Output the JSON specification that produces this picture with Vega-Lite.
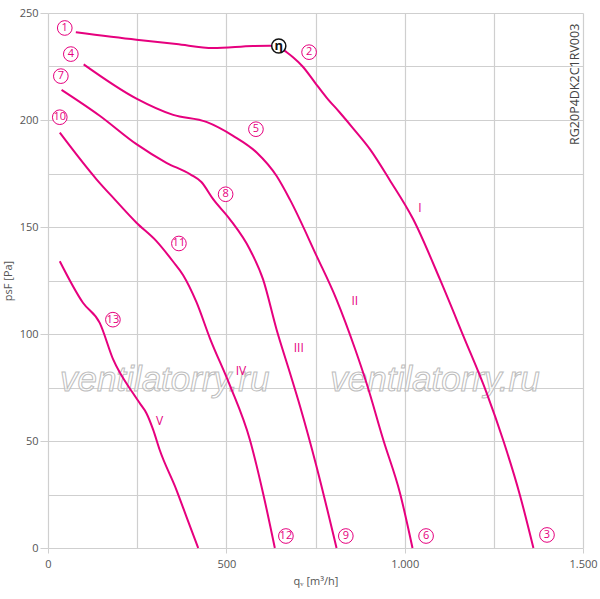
{
  "$schema": "https://vega.github.io/schema/vega-lite/v6.json",
  "description": "RG20P4DK2C1RV003 fan curves",
  "width": 535,
  "height": 535,
  "autosize": "none",
  "padding": {"left": 48, "top": 13, "right": 17, "bottom": 51},
  "background": "white",
  "config": {"view": {"stroke": null}, "font": "Open Sans"},
  "datasets": {
    "curves": [
      {"curve": "I", "x": 78, "y": 241}, {"curve": "I", "x": 248, "y": 237.5}, {"curve": "I", "x": 360, "y": 235.5},
      {"curve": "I", "x": 463, "y": 233.6}, {"curve": "I", "x": 575, "y": 234.6}, {"curve": "I", "x": 622, "y": 234.7},
      {"curve": "I", "x": 648, "y": 234.3}, {"curve": "I", "x": 664, "y": 232.3}, {"curve": "I", "x": 687, "y": 229.3},
      {"curve": "I", "x": 714, "y": 225}, {"curve": "I", "x": 748, "y": 217.6}, {"curve": "I", "x": 781, "y": 210.5},
      {"curve": "I", "x": 818, "y": 203.5}, {"curve": "I", "x": 856, "y": 196}, {"curve": "I", "x": 903, "y": 186.3},
      {"curve": "I", "x": 958, "y": 172}, {"curve": "I", "x": 1024, "y": 153.6},
      {"curve": "I", "x": 1099, "y": 125.5}, {"curve": "I", "x": 1165, "y": 98.9}, {"curve": "I", "x": 1230, "y": 72.4},
      {"curve": "I", "x": 1277, "y": 50}, {"curve": "I", "x": 1323, "y": 24.8}, {"curve": "I", "x": 1361, "y": 0},
      {"curve": "II", "x": 100, "y": 226}, {"curve": "II", "x": 248, "y": 210}, {"curve": "II", "x": 351, "y": 202.4},
      {"curve": "II", "x": 444, "y": 199.1}, {"curve": "II", "x": 519, "y": 192.6}, {"curve": "II", "x": 585, "y": 184.8},
      {"curve": "II", "x": 641, "y": 173.8}, {"curve": "II", "x": 678, "y": 162.9}, {"curve": "II", "x": 753, "y": 136.5},
      {"curve": "II", "x": 809, "y": 116.1}, {"curve": "II", "x": 861, "y": 93}, {"curve": "II", "x": 893, "y": 77.1},
      {"curve": "II", "x": 940, "y": 50.6}, {"curve": "II", "x": 987, "y": 25.6}, {"curve": "II", "x": 1022, "y": 0},
      {"curve": "III", "x": 38, "y": 214.1}, {"curve": "III", "x": 145, "y": 202}, {"curve": "III", "x": 248, "y": 188.7},
      {"curve": "III", "x": 332, "y": 180}, {"curve": "III", "x": 400, "y": 174.5}, {"curve": "III", "x": 430, "y": 171},
      {"curve": "III", "x": 463, "y": 163}, {"curve": "III", "x": 510, "y": 153.6}, {"curve": "III", "x": 566, "y": 139.5},
      {"curve": "III", "x": 603, "y": 125.5}, {"curve": "III", "x": 641, "y": 102}, {"curve": "III", "x": 678, "y": 82},
      {"curve": "III", "x": 707, "y": 66}, {"curve": "III", "x": 753, "y": 38}, {"curve": "III", "x": 809, "y": 0},
      {"curve": "IV", "x": 33, "y": 194.1}, {"curve": "IV", "x": 136, "y": 172.3}, {"curve": "IV", "x": 187, "y": 162.9},
      {"curve": "IV", "x": 248, "y": 152}, {"curve": "IV", "x": 304, "y": 143.4}, {"curve": "IV", "x": 350, "y": 134},
      {"curve": "IV", "x": 379, "y": 127.5}, {"curve": "IV", "x": 416, "y": 115}, {"curve": "IV", "x": 454, "y": 98},
      {"curve": "IV", "x": 510, "y": 76}, {"curve": "IV", "x": 566, "y": 50.6}, {"curve": "IV", "x": 603, "y": 25.6},
      {"curve": "IV", "x": 636, "y": 0},
      {"curve": "V", "x": 33, "y": 134}, {"curve": "V", "x": 98, "y": 114.6}, {"curve": "V", "x": 145, "y": 105.2},
      {"curve": "V", "x": 183, "y": 88}, {"curve": "V", "x": 238, "y": 72.4}, {"curve": "V", "x": 260, "y": 67},
      {"curve": "V", "x": 276, "y": 63}, {"curve": "V", "x": 295, "y": 55.2}, {"curve": "V", "x": 313, "y": 45.9},
      {"curve": "V", "x": 360, "y": 27.2}, {"curve": "V", "x": 388, "y": 14.7}, {"curve": "V", "x": 421, "y": 0}
    ],
    "points": [
      {"label": "1", "x": 47, "y": 243}, {"label": "2", "x": 732, "y": 231.7}, {"label": "3", "x": 1399, "y": 6.1},
      {"label": "4", "x": 64, "y": 230.8}, {"label": "5", "x": 583, "y": 195.7}, {"label": "6", "x": 1060, "y": 5.6},
      {"label": "7", "x": 36, "y": 220.5}, {"label": "8", "x": 498, "y": 165.3}, {"label": "9", "x": 835, "y": 5.6},
      {"label": "10", "x": 33, "y": 201.3}, {"label": "11", "x": 367, "y": 142.3}, {"label": "12", "x": 667, "y": 5.6},
      {"label": "13", "x": 182, "y": 106.7}
    ],
    "roman": [
      {"label": "I", "x": 1043, "y": 158.7}, {"label": "II", "x": 860, "y": 115.2}, {"label": "III", "x": 703, "y": 93.6},
      {"label": "IV", "x": 541, "y": 82.9}, {"label": "V", "x": 313, "y": 59.5}
    ],
    "watermark": [
      {"label": "ventilatorry.ru", "x": 327, "y": 78.7}, {"label": "ventilatorry.ru", "x": 1085, "y": 78.7}
    ],
    "code": [{"label": "RG20P4DK2C1RV003", "x": 1478, "y": 245}],
    "eta": [{"label": "η", "x": 647, "y": 234.6}]
  },
  "encoding": {
    "x": {
      "field": "x", "type": "quantitative",
      "scale": {"domain": [0, 1500], "nice": false},
      "axis": {
        "values": [0, 250, 500, 750, 1000, 1250, 1500],
        "title": "qᵥ [m³/h]",
        "labelExpr": "datum.value % 500 == 0 ? replace(format(datum.value, ','), ',', '.') : ''",
        "labelFlush": false,
        "domain": false, "gridColor": "#cfcfcf", "gridWidth": 1.2,
        "tickSize": 5, "tickColor": "#cfcfcf",
        "tickOpacity": {"condition": {"test": "datum.value % 500 == 0", "value": 1}, "value": 0},
        "labelFontSize": 11, "labelColor": "#555", "labelPadding": 5,
        "titleFontSize": 11, "titleFontWeight": "normal", "titleColor": "#555", "titlePadding": 6
      }
    },
    "y": {
      "field": "y", "type": "quantitative",
      "scale": {"domain": [0, 250], "nice": false},
      "axis": {
        "values": [0, 25, 50, 75, 100, 125, 150, 175, 200, 225, 250],
        "title": "psF [Pa]",
        "labelExpr": "datum.value % 50 == 0 ? datum.label : ''",
        "labelFlush": false,
        "domain": false, "gridColor": "#cfcfcf", "gridWidth": 1.2,
        "tickSize": 8, "tickColor": "#cfcfcf",
        "tickOpacity": {"condition": {"test": "datum.value % 50 == 0", "value": 1}, "value": 0},
        "labelFontSize": 11, "labelColor": "#555", "labelPadding": 2,
        "titleFontSize": 11, "titleFontWeight": "normal", "titleColor": "#555", "titlePadding": 6
      }
    }
  },
  "layer": [
    {
      "data": {"name": "watermark"},
      "mark": {"type": "text", "font": "Liberation Sans", "fontStyle": "italic", "fontSize": 35, "fill": "white", "fillOpacity": 0.6, "stroke": "#bdbdbd", "strokeWidth": 1, "align": "center", "baseline": "middle"},
      "encoding": {"text": {"field": "label"}}
    },
    {
      "data": {"name": "curves"},
      "mark": {"type": "line", "color": "#e6007e", "strokeWidth": 2, "interpolate": "monotone"},
      "encoding": {"detail": {"field": "curve"}}
    },
    {
      "data": {"name": "code"},
      "mark": {"type": "text", "angle": 270, "align": "right", "baseline": "middle", "fontSize": 12.5, "color": "#444"},
      "encoding": {"text": {"field": "label"}}
    },
    {
      "data": {"name": "roman"},
      "mark": {"type": "text", "align": "center", "baseline": "middle", "fontSize": 12, "color": "#e6007e"},
      "encoding": {"text": {"field": "label"}}
    },
    {
      "data": {"name": "points"},
      "mark": {"type": "point", "shape": "circle", "size": 215, "filled": false, "fill": "white", "fillOpacity": 1, "stroke": "#e6007e", "strokeWidth": 1, "opacity": 1}
    },
    {
      "data": {"name": "points"},
      "mark": {"type": "text", "align": "center", "baseline": "middle", "fontSize": 11, "color": "#e6007e"},
      "encoding": {"text": {"field": "label"}}
    },
    {
      "data": {"name": "eta"},
      "mark": {"type": "point", "shape": "circle", "size": 200, "filled": false, "fill": "white", "fillOpacity": 1, "stroke": "#111", "strokeWidth": 1.5, "opacity": 1}
    },
    {
      "data": {"name": "eta"},
      "mark": {"type": "text", "align": "center", "baseline": "middle", "fontSize": 13, "fontWeight": "bold", "color": "#111"},
      "encoding": {"text": {"field": "label"}}
    }
  ]
}
